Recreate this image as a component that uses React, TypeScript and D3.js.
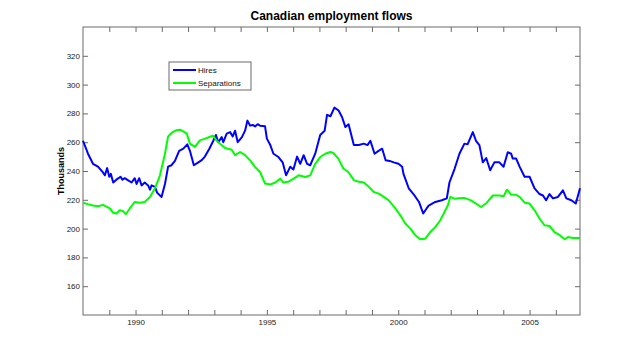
import { useRef, useEffect } from 'react'
import * as d3 from 'd3'

// readings (decimal years, thousands)
const hiresYears = [
  1988.0, 1988.19, 1988.38, 1988.57, 1988.76, 1988.83, 1988.92, 1989.0, 1989.06, 1989.15,
  1989.27, 1989.43, 1989.5, 1989.59, 1989.72, 1989.85, 1989.97, 1990.04, 1990.14, 1990.23,
  1990.35, 1990.48, 1990.55, 1990.61, 1990.74, 1990.82, 1990.99, 1991.12, 1991.24, 1991.37,
  1991.5, 1991.66, 1991.82, 1991.97, 1992.07, 1992.22, 1992.39, 1992.52, 1992.64, 1992.81,
  1992.96, 1993.06, 1993.15, 1993.28, 1993.34, 1993.47, 1993.6, 1993.7, 1993.79, 1993.89,
  1994.05, 1994.17, 1994.26, 1994.36, 1994.46, 1994.55, 1994.65, 1994.74, 1994.93, 1995.0,
  1995.13, 1995.25, 1995.44, 1995.6, 1995.73, 1995.89, 1996.01, 1996.15, 1996.27, 1996.4,
  1996.53, 1996.65, 1996.84, 1997.03, 1997.2, 1997.29, 1997.42, 1997.57, 1997.73, 1997.86,
  1997.99, 1998.11, 1998.31, 1998.5, 1998.69, 1998.83, 1998.94, 1999.1, 1999.25, 1999.39,
  1999.52, 1999.67, 1999.83, 2000.01, 2000.15, 2000.2, 2000.4, 2000.58, 2000.79, 2000.95,
  2001.08, 2001.16, 2001.41, 2001.66, 2001.85, 2001.95, 2002.15, 2002.33, 2002.52, 2002.64,
  2002.84, 2002.96, 2003.09, 2003.22, 2003.35, 2003.5, 2003.66, 2003.85, 2004.01, 2004.17,
  2004.3, 2004.36, 2004.49, 2004.62, 2004.81, 2005.0, 2005.19, 2005.38, 2005.51, 2005.63,
  2005.76, 2005.89, 2006.08, 2006.27, 2006.4, 2006.59, 2006.76, 2006.92,
]
const hiresValues = [
  261, 252, 245, 243, 239, 237, 242, 236, 238, 232,
  234, 236, 234, 235, 233.5, 232, 235, 231, 235, 230,
  232, 230, 227, 230, 229, 225, 222, 231, 243, 244,
  247, 254, 255.5, 258.5, 254, 244, 246, 247.5, 250, 255.5,
  261, 265, 260, 263.5, 260, 266, 267, 264, 268, 260,
  263.5, 268, 275, 271.5, 272, 271, 272.5, 271.5, 271, 262.5,
  258, 252, 249.7, 246, 237, 243, 241, 250, 245, 251,
  245, 244, 252, 265, 268, 279, 278, 284, 282, 277.5,
  270.5, 272.5, 258, 258, 259, 258, 261, 252, 254, 255.5,
  247.5, 247, 246, 245, 243, 238, 228, 224, 218.5, 210.5,
  214, 216, 218.5, 219.7, 221, 232, 241.7, 252, 259, 258.5,
  267, 261, 258, 246, 249, 240.5, 246, 246, 243, 253,
  252, 248.6, 248.6, 243, 236, 236, 228, 224, 223, 219.7,
  224, 221, 222, 226.6, 221, 219.7, 217.4, 228,
]

const sepYears = [
  1988.0, 1988.18, 1988.38, 1988.57, 1988.76, 1989.02, 1989.15, 1989.27, 1989.4, 1989.53,
  1989.63, 1989.78, 1989.97, 1990.16, 1990.35, 1990.55, 1990.74, 1990.93, 1991.12, 1991.24,
  1991.37, 1991.56, 1991.69, 1991.82, 1991.95, 1992.07, 1992.26, 1992.45, 1992.65, 1992.81,
  1992.95, 1993.09, 1993.22, 1993.41, 1993.66, 1993.79, 1993.98, 1994.17, 1994.36, 1994.55,
  1994.74, 1994.93, 1995.13, 1995.32, 1995.51, 1995.63, 1995.81, 1996.02, 1996.21, 1996.46,
  1996.65, 1996.84, 1997.03, 1997.22, 1997.42, 1997.53, 1997.72, 1997.91, 1998.1, 1998.32,
  1998.5, 1998.69, 1998.88, 1999.07, 1999.26, 1999.45, 1999.64, 1999.89, 2000.08, 2000.27,
  2000.46, 2000.65, 2000.84, 2001.03, 2001.22, 2001.41, 2001.6, 2001.73, 2001.89, 2001.98,
  2002.15, 2002.3, 2002.52, 2002.77, 2002.96, 2003.15, 2003.34, 2003.6, 2003.85, 2004.01,
  2004.14, 2004.3, 2004.48, 2004.62, 2004.81, 2005.0, 2005.19, 2005.38, 2005.57, 2005.76,
  2005.95, 2006.15, 2006.34, 2006.46, 2006.65, 2006.88, 2006.92,
]
const sepValues = [
  218, 217, 216, 215.5, 216.5, 214, 211, 210.5, 212.7, 212,
  210, 214, 218.5, 218, 218.5, 222, 228, 237, 252, 264,
  266.4, 268.3, 268.7, 267.5, 266, 259, 256.7, 261.3, 262.5, 263.6,
  264.5, 261, 259, 256, 254.8, 251, 253.2, 251, 247.4, 242.8,
  239.3, 231.3, 230.6, 232, 234.7, 232, 232.5, 234.7, 237, 235.8,
  237, 245, 249.7, 252, 253.2, 252.5, 248.6, 241.7, 239.3, 233.5,
  232.5, 232, 229, 225.4, 224.3, 222, 219.6, 214, 209.2, 203.5,
  200, 195.4, 192.6, 193, 197.6, 201, 205.8, 210.4, 216.2, 222,
  220.8, 221, 221.3, 219.6, 217.4, 215, 217.4, 223, 223, 222.5,
  227, 223.6, 223.5, 222, 218, 217.4, 212.7, 207, 202.3, 201.8,
  197.6, 195.4, 192.6, 194.2, 193.5, 193.5, 193.5,
]

const yTicks = [160, 180, 200, 220, 240, 260, 280, 300, 320]
const xLabelYears = [1990, 1995, 2000, 2005]
const seriesNames = ['Hires', 'Separations']
const seriesColors = ['#0000ff', '#00ff00']

const W = 640
const H = 354
const MARGIN = { top: 27, right: 60, bottom: 39, left: 83 }
const AXIS = '#6b6b6b'
const FONT = "'Liberation Sans', Arial, sans-serif"
const TICK_LEN = 5

export default function App() {
  const svgRef = useRef<SVGSVGElement>(null)

  useEffect(() => {
    const svg = svgRef.current
    if (!svg) return
    const sel = d3.select(svg)
    sel.selectAll('*').remove()

    const w = W - MARGIN.left - MARGIN.right
    const h = H - MARGIN.top - MARGIN.bottom

    const x = d3.scaleLinear().domain([1988, 2006.92]).range([0, w])
    const y = d3.scaleLinear().domain([140, 340]).range([h, 0])

    sel.append('rect').attr('width', W).attr('height', H).attr('fill', '#ffffff')

    const g = sel.append('g').attr('transform', `translate(${MARGIN.left},${MARGIN.top})`)

    const yearTicks = d3.range(1989, 2007)

    // bottom axis: inward ticks every year, labels every 5 years
    const xAxis = d3
      .axisBottom(x)
      .tickValues(yearTicks)
      .tickSize(-TICK_LEN)
      .tickPadding(4)
      .tickFormat((d) => (xLabelYears.includes(d as number) ? String(d) : ''))
    g.append('g')
      .attr('transform', `translate(0,${h})`)
      .call(xAxis)
      .call((a) => a.select('.domain').remove())
      .call((a) => a.selectAll('.tick line').attr('stroke', AXIS))
      .call((a) =>
        a.selectAll('.tick text').attr('fill', '#222').attr('font-size', '8px').attr('font-family', FONT),
      )

    // top axis, ticks only
    g.append('g')
      .call(d3.axisTop(x).tickValues(yearTicks).tickSize(-TICK_LEN).tickFormat(() => ''))
      .call((a) => a.select('.domain').remove())
      .call((a) => a.selectAll('.tick line').attr('stroke', AXIS))

    const yAxis = d3.axisLeft(y).tickValues(yTicks).tickSize(-TICK_LEN).tickPadding(3)
    g.append('g')
      .call(yAxis)
      .call((a) => a.select('.domain').remove())
      .call((a) => a.selectAll('.tick line').attr('stroke', AXIS))
      .call((a) =>
        a.selectAll('.tick text').attr('fill', '#222').attr('font-size', '8px').attr('font-family', FONT),
      )

    g.append('g')
      .attr('transform', `translate(${w},0)`)
      .call(d3.axisRight(y).tickValues(yTicks).tickSize(-TICK_LEN).tickFormat(() => ''))
      .call((a) => a.select('.domain').remove())
      .call((a) => a.selectAll('.tick line').attr('stroke', AXIS))

    g.append('rect')
      .attr('width', w)
      .attr('height', h)
      .attr('fill', 'none')
      .attr('stroke', AXIS)
      .attr('stroke-width', 1)

    const line = d3
      .line<[number, number]>()
      .x((d) => x(d[0]))
      .y((d) => y(d[1]))

    const series: [number, number][][] = [
      hiresYears.map((yr, i) => [yr, hiresValues[i]]),
      sepYears.map((yr, i) => [yr, sepValues[i]]),
    ]

    series.forEach((pts, i) => {
      g.append('path')
        .datum(pts)
        .attr('d', line)
        .attr('fill', 'none')
        .attr('stroke', seriesColors[i])
        .attr('stroke-width', 2)
        .attr('stroke-linejoin', 'round')
    })

    // legend
    const lg = g.append('g').attr('transform', `translate(${169 - MARGIN.left},${62 - MARGIN.top})`)
    lg.append('rect')
      .attr('width', 82)
      .attr('height', 28)
      .attr('fill', '#fff')
      .attr('stroke', AXIS)
    seriesNames.forEach((name, i) => {
      const ly = 8 + i * 13
      lg.append('line')
        .attr('x1', 4).attr('x2', 27)
        .attr('y1', ly).attr('y2', ly)
        .attr('stroke', seriesColors[i])
        .attr('stroke-width', 2)
      lg.append('text')
        .attr('x', 29)
        .attr('y', ly + 3)
        .attr('font-size', '8px')
        .attr('font-family', FONT)
        .attr('fill', '#111')
        .text(name)
    })

    // title and y label
    sel.append('text')
      .attr('x', MARGIN.left + w / 2)
      .attr('y', 20)
      .attr('text-anchor', 'middle')
      .attr('font-size', '12px')
      .attr('font-weight', 'bold')
      .attr('font-family', FONT)
      .attr('fill', '#000')
      .text('Canadian employment flows')

    sel.append('text')
      .attr('transform', `translate(64,${MARGIN.top + h / 2}) rotate(-90)`)
      .attr('text-anchor', 'middle')
      .attr('font-size', '9px')
      .attr('font-weight', 'bold')
      .attr('font-family', FONT)
      .attr('fill', '#000')
      .text('Thousands')
  }, [])

  return (
    <div style={{ position: 'absolute', left: 0, top: 0 }}>
      <svg ref={svgRef} width={W} height={H} style={{ display: 'block' }} />
    </div>
  )
}
